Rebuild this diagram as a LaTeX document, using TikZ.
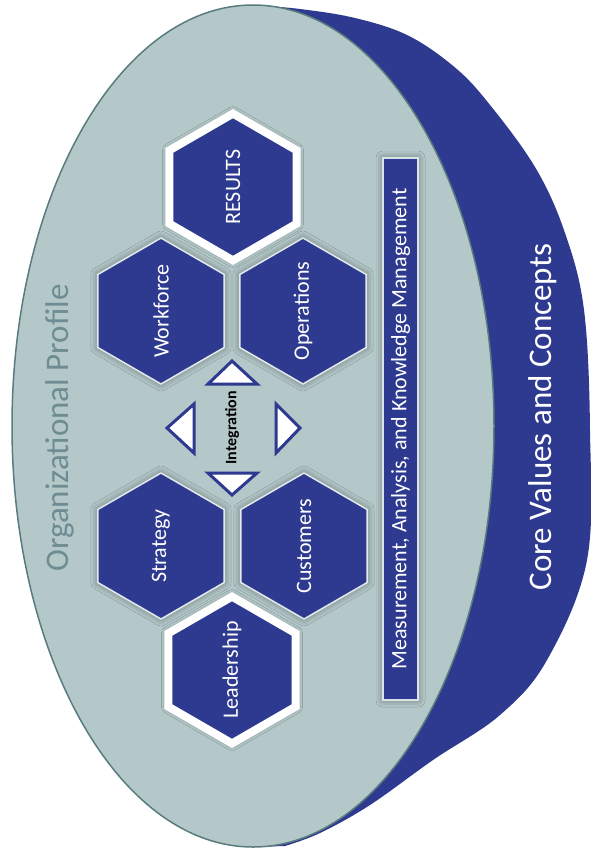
\documentclass[tikz,border=0pt]{standalone}
\usepackage{fontspec}
\setmainfont{Carlito}
\usetikzlibrary{shadows.blur}

\definecolor{plate}{HTML}{B4C8C9}
\definecolor{plateedge}{HTML}{587C7E}
\definecolor{navy}{HTML}{2E3A90}
\definecolor{profiletext}{HTML}{6E8C91}
\definecolor{hexedge}{HTML}{E2EAEC}

% pointy-topped hexagon around a named node: style, node, circumradius
\newcommand{\hexaround}[3]{%
  \path[#1] (#2) +(90:#3) -- +(30:#3) -- +(-30:#3) -- +(-90:#3)
    -- +(-150:#3) -- +(150:#3) -- cycle;}

\tikzset{
  softshadow/.style={blur shadow={shadow xshift=0pt, shadow yshift=0pt,
      shadow blur radius=7pt, shadow opacity=45}},
  hexface/.style={fill=navy, draw=hexedge, line width=1.5pt,
      line join=miter, softshadow},
  keyface/.style={hexface, draw=white, line width=8pt},
  hexlabel/.style={rotate=90, inner sep=0pt, text=white,
      font=\fontsize{22}{24}\selectfont},
  tri/.style={fill=white, draw=navy, line width=3pt, line join=miter},
  bigword/.style={rotate=90, inner sep=0pt, font=\fontsize{33}{36}\selectfont},
  barbox/.style={rotate=90, minimum width=542pt, minimum height=35pt,
      inner sep=0pt, fill=navy, draw=hexedge!80!plate, line width=1.5pt,
      text=white, font=\fontsize{22}{24}\selectfont, softshadow},
}

\begin{document}
\begin{tikzpicture}[x=1pt, y=-1pt]
  \useasboundingbox (0,0) rectangle (591,852);
  \fill[white] (0,0) rectangle (591,852);

  % back rim of the disc
  \fill[navy] plot[smooth, tension=0.6] coordinates {
      (253,5) (300,9) (355,18) (407,35) (452,65) (486,100) (535,167)
      (565,233) (584,310) (590,430) (587,560) (547,660) (500,715)
      (433,760) (370,805) (320,833) (285,846)}
    -- (253,847) -- cycle;

  % front face of the disc
  \draw[fill=plate, draw=plateedge, line width=1.5pt]
    (253,426) ellipse [x radius=241pt, y radius=421pt];

  \node[bigword, text=profiletext] (profile) at (60,428) {Organizational Profile};
  \node[bigword, text=white] (core) at (543,417) {Core Values and Concepts};

  % hexagon centres
  \coordinate (cresults) at (233,187);
  \coordinate (cworkforce) at (161,311);
  \coordinate (coperations) at (303,311);
  \coordinate (cstrategy) at (161,546);
  \coordinate (ccustomers) at (304,546);
  \coordinate (cleadership) at (232,670);

  % hexagon faces
  \hexaround{keyface}{cresults}{73.4}
  \hexaround{hexface}{cworkforce}{73}
  \hexaround{hexface}{coperations}{73}
  \hexaround{hexface}{cstrategy}{73}
  \hexaround{hexface}{ccustomers}{73}
  \hexaround{keyface}{cleadership}{73.4}

  % hexagon labels
  \node[hexlabel] (results) at (cresults) {RESULTS};
  \node[hexlabel] (workforce) at (cworkforce) {Workforce};
  \node[hexlabel] (operations) at (coperations) {Operations};
  \node[hexlabel] (strategy) at (cstrategy) {Strategy};
  \node[hexlabel] (customers) at (ccustomers) {Customers};
  \node[hexlabel] (leadership) at (cleadership) {Leadership};

  % measurement bar
  \node[barbox] (measure) at (400.5,429)
    {Measurement, Analysis, and Knowledge Management};

  % integration marker
  \coordinate (int) at (232,428);
  \draw[tri, shift={(int)}] (0,-67) -- (-24,-44) -- (25,-44) -- cycle;
  \draw[tri, shift={(int)}] (0,67) -- (-24,45) -- (25,45) -- cycle;
  \draw[tri, shift={(int)}] (-65,0) -- (-38,-24) -- (-38,25) -- cycle;
  \draw[tri, shift={(int)}] (68,0) -- (44,-24) -- (44,25) -- cycle;
  \node[rotate=90, inner sep=0pt, font=\fontsize{16}{18}\selectfont\bfseries]
    (integration) at (int) {Integration};
\end{tikzpicture}
\end{document}
